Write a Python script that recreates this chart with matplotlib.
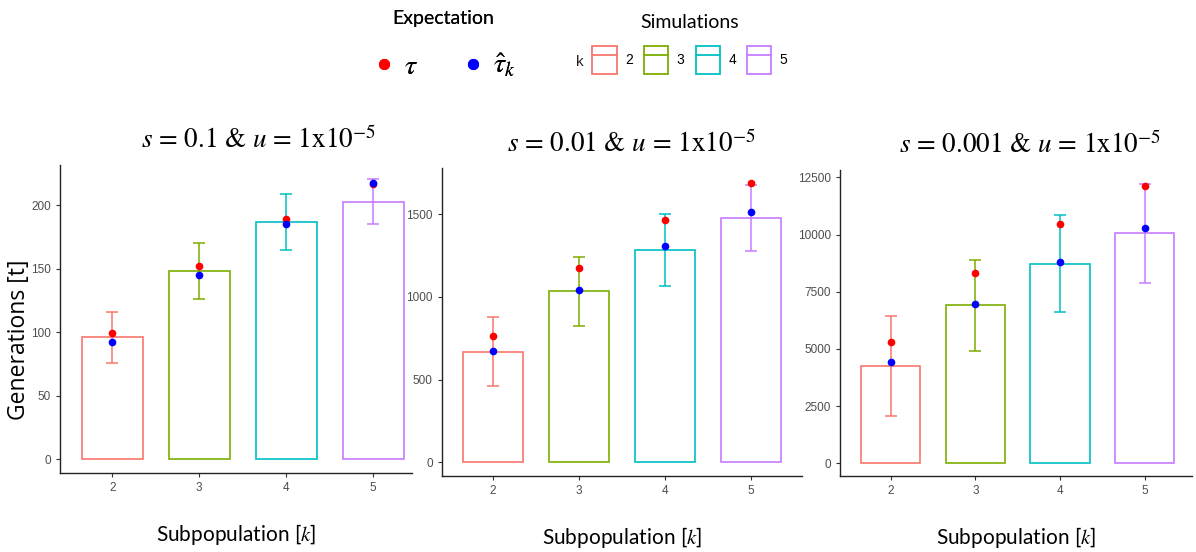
import matplotlib

matplotlib.use("Agg")
import matplotlib.pyplot as plt
from matplotlib.lines import Line2D
from matplotlib.patches import Rectangle
import numpy as np

plt.rcParams["mathtext.fontset"] = "stix"

K = [2, 3, 4, 5]
COLORS = ["#F8766D", "#7CAE00", "#00BFC4", "#C77CFF"]

TITLES = [
    r"$s$ = 0.1 & $u$ = 1x10$^{-5}$",
    r"$s$ = 0.01 & $u$ = 1x10$^{-5}$",
    r"$s$ = 0.001 & $u$ = 1x10$^{-5}$",
]

# simulated mean, error bar bounds, expected tau, estimated tau_hat
sim_mean_1 = [96, 148, 187, 203]
err_lo_1 = [76, 126, 165, 185]
err_hi_1 = [116, 170, 209, 221]
tau_1 = [99, 152, 189, 217]
tau_hat_1 = [92, 145, 185, 218]

sim_mean_2 = [668, 1035, 1283, 1474]
err_lo_2 = [459, 825, 1063, 1277]
err_hi_2 = [878, 1242, 1498, 1673]
tau_2 = [761, 1176, 1466, 1689]
tau_hat_2 = [671, 1043, 1307, 1512]

sim_mean_3 = [4239, 6919, 8711, 10066]
err_lo_3 = [2067, 4921, 6613, 7893]
err_hi_3 = [6438, 8899, 10839, 12220]
tau_3 = [5302, 8304, 10445, 12120]
tau_hat_3 = [4428, 6962, 8813, 10270]

Y_TICKS = [
    [0, 50, 100, 150, 200],
    [0, 500, 1000, 1500],
    [0, 2500, 5000, 7500, 10000, 12500],
]

W, H = 1196, 552
PANELS = [
    # left, right, bottom, top in pixels, xlim, ylim, title x (axes fraction)
    ((60, 412, 472.7, 165), (1.4, 5.446), (-10.8, 231.8), 0.565),
    ((441.7, 802, 475.7, 168.3), (1.4, 5.6), (-80, 1776), 0.525),
    ((840, 1192, 476, 170), (1.4, 5.56), (-555, 12820), 0.54),
]

data = [
    (sim_mean_1, err_lo_1, err_hi_1, tau_1, tau_hat_1),
    (sim_mean_2, err_lo_2, err_hi_2, tau_2, tau_hat_2),
    (sim_mean_3, err_lo_3, err_hi_3, tau_3, tau_hat_3),
]

fig = plt.figure(figsize=(W / 100, H / 100), dpi=100)

for i, ((l, r, b, t), xlim, ylim, tx) in enumerate(PANELS):
    ax = fig.add_axes([l / W, 1 - b / H, (r - l) / W, (b - t) / H])
    mean, lo, hi, tau, tau_hat = data[i]
    for k, m, e0, e1, c in zip(K, mean, lo, hi, COLORS):
        ax.bar(k, m, width=0.7, fill=False, edgecolor=c, linewidth=1.2)
        ax.errorbar(k, m, yerr=[[m - e0], [e1 - m]], color=c, capsize=4, linewidth=1.1, capthick=1.1)
    ax.plot(K, tau, "o", color="red", markersize=4.5, zorder=5)
    ax.plot(K, tau_hat, "o", color="blue", markersize=4.5, zorder=6)
    ax.set_xlim(*xlim)
    ax.set_ylim(*ylim)
    ax.set_xticks(K)
    ax.set_yticks(Y_TICKS[i])
    ax.tick_params(labelsize=8.5, colors="#333333", labelcolor="#4D4D4D", length=3, width=0.8)
    for lab in ax.get_xticklabels() + ax.get_yticklabels():
        lab.set_family("Liberation Sans")
    for side in ("top", "right"):
        ax.spines[side].set_visible(False)
    for side in ("left", "bottom"):
        ax.spines[side].set_color("#222222")
        ax.spines[side].set_linewidth(1.0)
    title = ax.set_title(TITLES[i], fontsize=19.5, family="STIXGeneral", pad=12)
    title.set_x(tx)
    ax.set_xlabel(r"Subpopulation [$k$]", fontsize=15, family="Lato", labelpad=20)

fig.text(19 / W, 1 - 340 / H, "Generations [t]", rotation=90, ha="center", va="center",
         fontsize=16.5, family="Open Sans")

# expectation legend
exp_handles = [
    Line2D([], [], marker="o", ls="none", color="red", markersize=7),
    Line2D([], [], marker="o", ls="none", color="blue", markersize=7),
]
leg1 = fig.legend(
    exp_handles, [r"$\tau$", r"$\hat{\tau}_k$"], title="Expectation",
    loc="center", bbox_to_anchor=(443 / W, 1 - 45 / H), ncol=2, frameon=False,
    prop=dict(family="STIXGeneral", size=20), title_fontproperties=dict(family="Lato", size=14),
    columnspacing=1.5, handletextpad=0.2, handlelength=1.0, labelspacing=0.9,
)

# simulations legend
sim_handles = [
    (Rectangle((0, 0), 1, 1, fill=False, edgecolor=c, linewidth=1.3), Line2D([], [], color=c, linewidth=1.3))
    for c in COLORS
]
leg2 = fig.legend(
    sim_handles, [str(k) for k in K], title="Simulations",
    loc="center", bbox_to_anchor=(690 / W, 1 - 44 / H), ncol=4, frameon=False,
    prop=dict(family="Liberation Sans", size=10), title_fontproperties=dict(family="Lato", size=14),
    columnspacing=0.8, handletextpad=0.6, handlelength=1.75, handleheight=2.8, labelspacing=1.1,
)
fig.add_artist(leg1)
fig.text(580 / W, 1 - 62 / H, "k", ha="center", va="center", fontsize=11, family="Liberation Sans", color="#222222")

fig.savefig("out.png", dpi=100)
